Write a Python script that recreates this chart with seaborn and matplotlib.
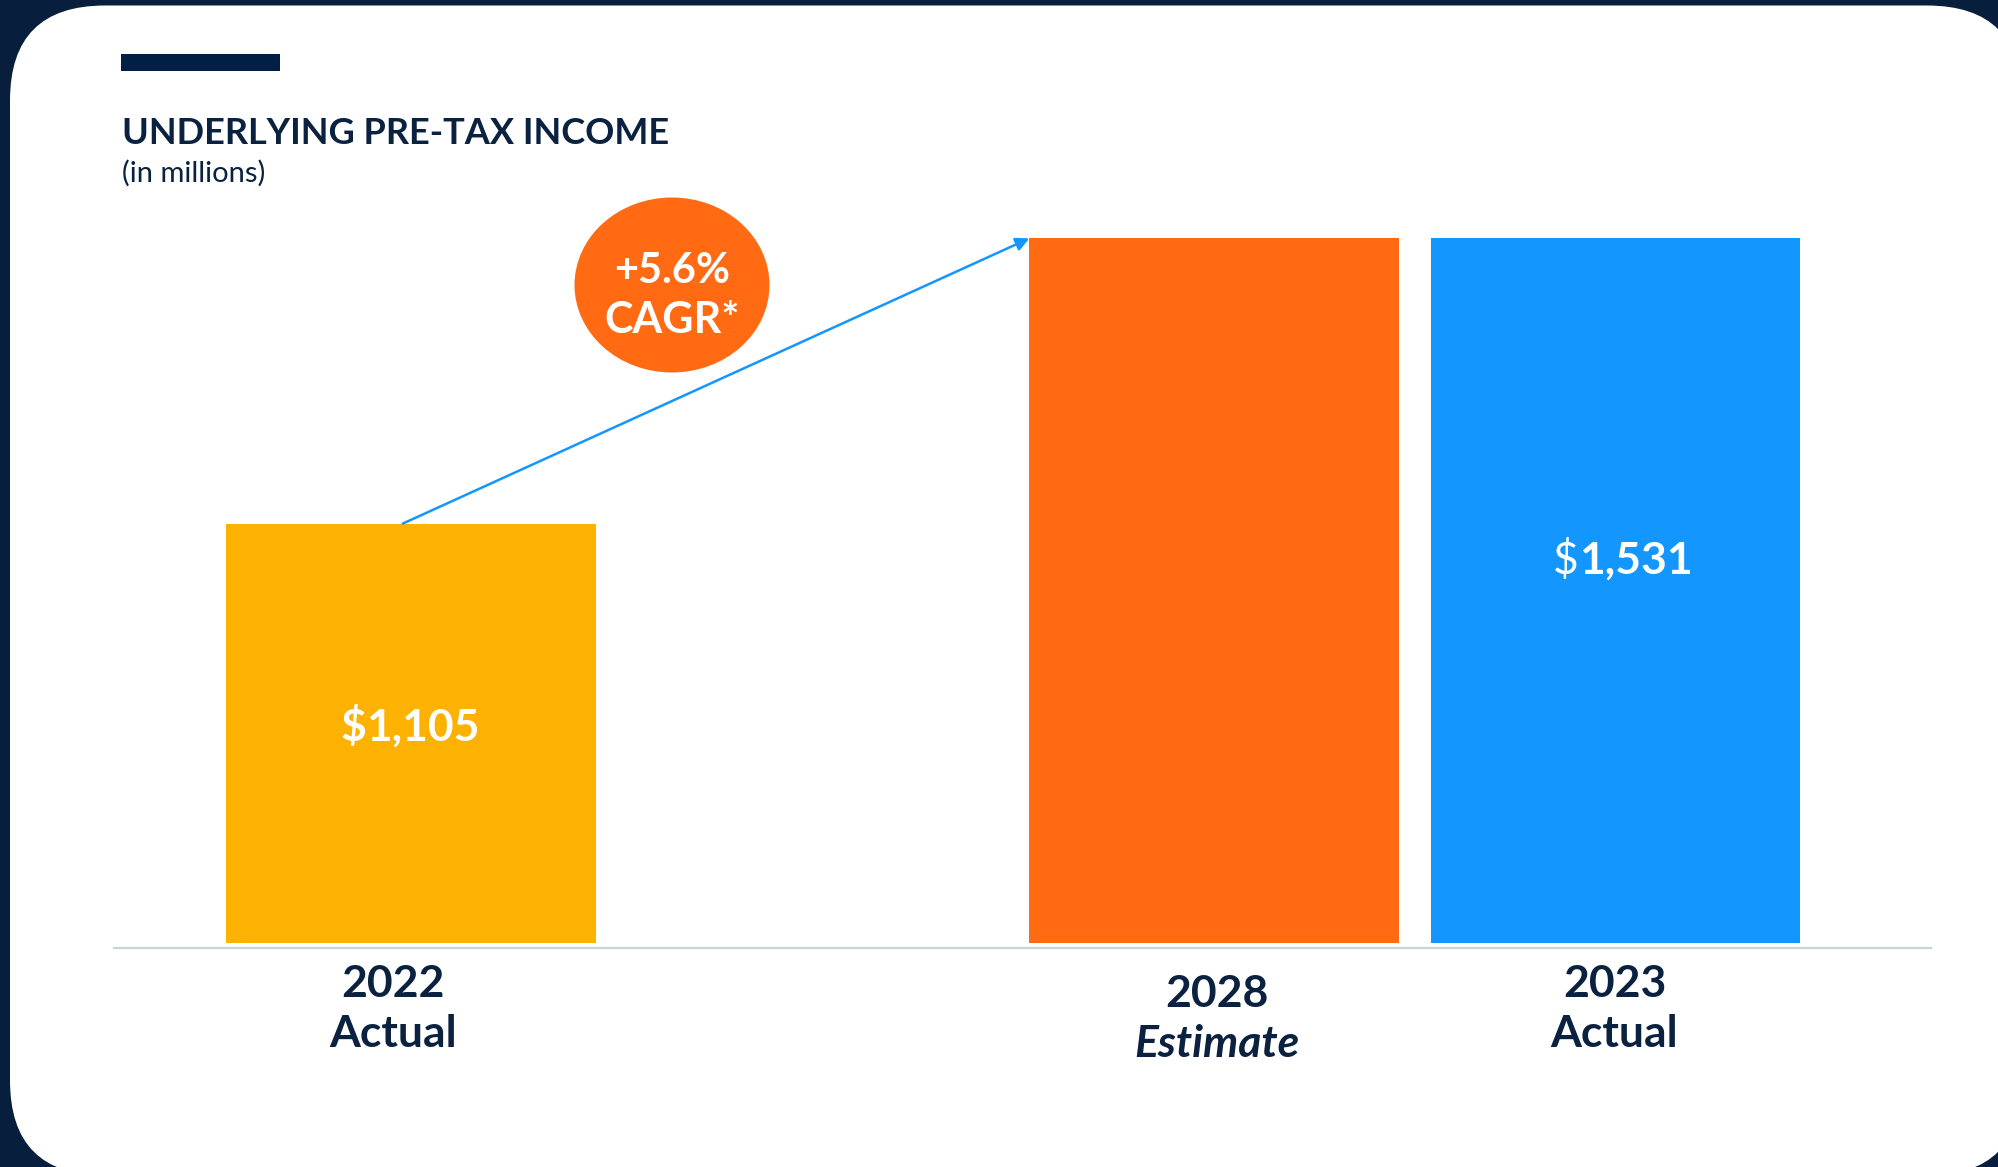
import matplotlib
matplotlib.use("Agg")
import matplotlib.pyplot as plt
import seaborn as sns
import pandas as pd
from matplotlib import transforms
from matplotlib.patches import FancyBboxPatch, Ellipse, Rectangle

# ---- data -------------------------------------------------------------
periods = ["2022", "2028", "2023"]
period_kinds = ["Actual", "Estimate", "Actual"]
pretax_income = [1105, 1530, 1531]          # $ millions
show_value = [True, False, True]
cagr_text = ["+5.6%", "CAGR*"]
title = "UNDERLYING PRE-TAX INCOME"
subtitle = "(in millions)"

# ---- style ------------------------------------------------------------
NAVY = "#071F3D"
INK = "#0A2240"
BAR_COLORS = ["#FDB100", "#FF6A13", "#1496FF"]
ORANGE = "#FF6A13"
BLUE = "#1496FF"
RULE = "#C8D6D2"

sns.set_style("white")
plt.rcParams["font.family"] = ["Lato", "DejaVu Sans"]

W, H = 1998, 1167
fig = plt.figure(figsize=(W / 100, H / 100), dpi=100)
fig.patch.set_facecolor(NAVY)

# background layer in pixel units (y grows downward)
bg = fig.add_axes([0, 0, 1, 1])
bg.set_xlim(0, W)
bg.set_ylim(H, 0)
bg.axis("off")
bg.set_zorder(0)

bg.add_patch(FancyBboxPatch((10, 5.5), 2012, 1170, boxstyle="round,pad=0,rounding_size=95",
                            fc="white", ec="none"))
bg.add_patch(Rectangle((121, 54), 159, 17, fc="#001F45", ec="none"))
bg.text(122, 144, title, fontsize=26, fontweight="bold", color=INK, ha="left", va="baseline")
bg.text(122, 182, subtitle, fontsize=21, color=INK, ha="left", va="baseline")

# CAGR bubble
bg.add_patch(Ellipse((672, 285), 195, 175, fc=ORANGE, ec="none"))
bg.text(672, 283, cagr_text[0], fontsize=30, fontweight="bold", color="white",
        ha="center", va="baseline")
bg.text(672, 333, cagr_text[1], fontsize=31, fontweight="bold", color="white",
        ha="center", va="baseline")

# ---- bars -------------------------------------------------------------
slot_positions = [0, 2, 3]   # leaves an empty slot between actual and estimate
names = [f"{p} {k}" for p, k in zip(periods, period_kinds)]
df = pd.DataFrame({"slot": slot_positions, "income": pretax_income, "name": names})

ax = fig.add_axes([114 / W, 1 - 943 / H, (1931 - 114) / W, (943 - 180) / H])
ax.set_zorder(1)
ax.patch.set_alpha(0)

sns.barplot(data=df, x="slot", y="income", hue="name",
            palette=dict(zip(names, BAR_COLORS)), native_scale=True,
            width=0.92, saturation=1, errorbar=None, legend=False,
            linewidth=0, ax=ax)

ax.set_xlim(-0.739, 3.785)
ax.set_ylim(480, 1617)
ax.set_xticks([])
ax.set_yticks([])
ax.set_xlabel("")
ax.set_ylabel("")
for side in ["left", "right", "top"]:
    ax.spines[side].set_visible(False)
ax.spines["bottom"].set_position(("outward", 3.8))
ax.spines["bottom"].set_color(RULE)
ax.spines["bottom"].set_linewidth(1.6)

# category labels below the rule
trans = transforms.blended_transform_factory(ax.transData, bg.transData)
label_dx = [-0.044, 0.006, -0.003]
label_base = [997, 1007, 997]
for x, dx, yb, p, k in zip(slot_positions, label_dx, label_base, periods, period_kinds):
    ax.text(x + dx, yb, p, transform=trans, fontsize=32, fontweight="bold",
            color=INK, ha="center", va="baseline")
    ax.text(x + dx, yb + 50, k, transform=trans, fontsize=32, fontweight="bold",
            fontstyle="italic" if k == "Estimate" else "normal",
            color=INK, ha="center", va="baseline")

# value labels inside bars ("$" weight differs between the two)
value_base = [741, None, 574]
value_dx = [-0.002, 0, 0.017]
dollar_weight = ["bold", None, "normal"]
fig.canvas.draw()
renderer = fig.canvas.get_renderer()
for x, dx, yb, v, show, dw in zip(slot_positions, value_dx, value_base,
                                  pretax_income, show_value, dollar_weight):
    if not show:
        continue
    t_sign = ax.text(x + dx, yb, "$", transform=trans, fontsize=32, fontweight=dw,
                     color="white", ha="right", va="baseline")
    t_num = ax.text(x + dx, yb, f"{v:,}", transform=trans, fontsize=32,
                    fontweight="bold", color="white", ha="left", va="baseline")
    ws = t_sign.get_window_extent(renderer).width
    wn = t_num.get_window_extent(renderer).width
    shift = ws - (ws + wn) / 2
    moved = transforms.offset_copy(trans, fig=fig, x=shift, units="dots")
    t_sign.set_transform(moved)
    t_num.set_transform(moved)

# growth arrow from the 2022 bar to the 2028 estimate bar
bars = {round(p.get_x() + p.get_width() / 2): p for p in ax.patches}
start_bar, end_bar = bars[slot_positions[0]], bars[slot_positions[1]]
ax.annotate("", xy=(end_bar.get_x(), end_bar.get_height()),
            xytext=(start_bar.get_x() + start_bar.get_width() / 2 - 0.02, start_bar.get_height()),
            arrowprops=dict(arrowstyle="-|>", color=BLUE, lw=1.8, mutation_scale=20,
                            shrinkA=0, shrinkB=0))

fig.savefig("out.png", dpi=100, facecolor=fig.get_facecolor())
